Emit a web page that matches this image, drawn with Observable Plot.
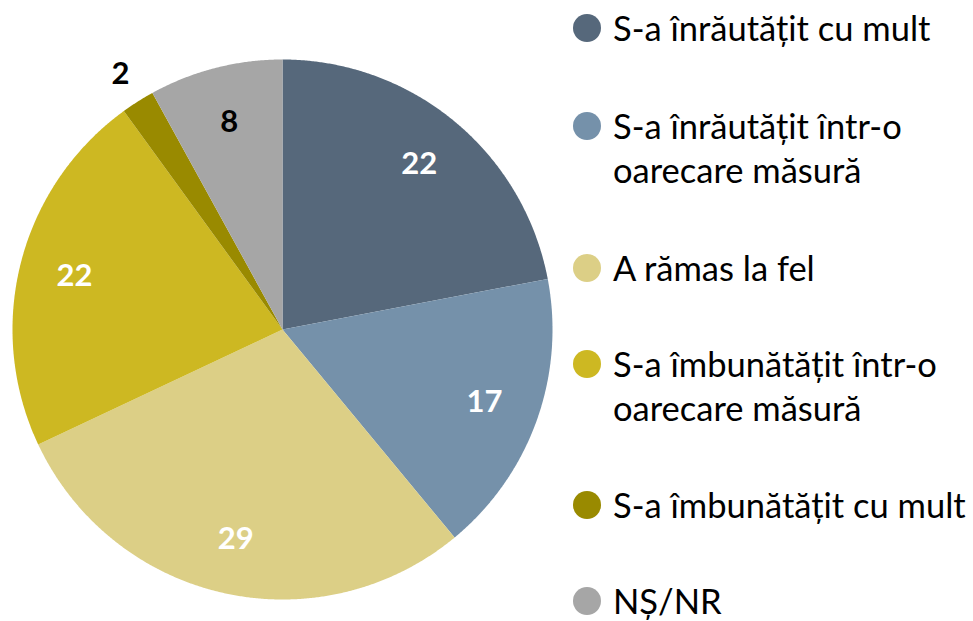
<!DOCTYPE html>
<html>
<head>
<meta charset="utf-8">
<script src="https://cdn.jsdelivr.net/npm/d3@7"></script>
<script src="https://cdn.jsdelivr.net/npm/@observablehq/plot@0.6"></script>
<style>
  html, body { margin: 0; padding: 0; background: #fff; overflow: hidden; }
  #wrap { position: relative; width: 973px; height: 621px; font-family: Lato, "Open Sans", sans-serif; }
  #chart { position: absolute; left: 0; top: 0; }
  #legend { position: absolute; left: 573px; top: 6px; }
  .item { display: flex; align-items: flex-start; }
  .sw { width: 28px; height: 28px; border-radius: 50%; margin-top: 8px; margin-right: 12px; flex: none; }
  .lab { font-size: 34.5px; line-height: 44px; color: #000; white-space: nowrap; }
</style>
</head>
<body>
<div id="wrap">
  <div id="chart"></div>
  <div id="legend"></div>
</div>
<script>
const categories = [
  "S-a înrăutățit cu mult",
  "S-a înrăutățit într-o oarecare măsură",
  "A rămas la fel",
  "S-a îmbunătățit într-o oarecare măsură",
  "S-a îmbunătățit cu mult",
  "NȘ/NR"
];
const legendLines = [
  ["S-a înrăutățit cu mult"],
  ["S-a înrăutățit într-o", "oarecare măsură"],
  ["A rămas la fel"],
  ["S-a îmbunătățit într-o", "oarecare măsură"],
  ["S-a îmbunătățit cu mult"],
  ["NȘ/NR"]
];
const values = [22, 17, 29, 22, 2, 8];
const colors = ["#56687b", "#7591aa", "#dccf86", "#cdb822", "#998a00", "#a6a6a6"];
const labelColors = ["#ffffff", "#ffffff", "#ffffff", "#ffffff", "#000000", "#000000"];

// pie geometry from the values (clockwise from 12 o'clock)
const arcs = d3.pie().sort(null).value(d => d.value)(
  categories.map((c, i) => ({category: c, value: values[i], i}))
);
const poly = [];
for (const a of arcs) {
  const c = a.data.category;
  poly.push({category: c, x: 0, y: 0});
  const n = Math.max(4, Math.ceil((a.endAngle - a.startAngle) / 0.005));
  for (let k = 0; k <= n; k++) {
    const t = a.startAngle + (a.endAngle - a.startAngle) * k / n;
    poly.push({category: c, x: Math.sin(t), y: Math.cos(t)});
  }
  poly.push({category: c, x: 0, y: 0});
}
const labels = arcs.map(a => {
  const m = (a.startAngle + a.endAngle) / 2;
  const r = a.data.value < 5 ? 1.12 : 0.795;
  return {text: String(a.data.value), x: r * Math.sin(m), y: r * Math.cos(m), color: labelColors[a.data.i]};
});

const chart = Plot.plot({
  width: 565,
  height: 621,
  margin: 0,
  x: {domain: [-1, 1], range: [12, 552], axis: null},
  y: {domain: [-1, 1], range: [599, 59], axis: null},
  color: {domain: categories, range: colors},
  style: {background: "transparent", fontFamily: "Lato, 'Open Sans', sans-serif"},
  marks: [
    Plot.line(poly, {x: "x", y: "y", z: "category", fill: "category", stroke: "none", curve: "linear"}),
    Plot.text(labels, {x: "x", y: "y", text: "text", fill: "color", fontSize: 31, fontWeight: "bold", textAnchor: "middle", lineAnchor: "middle"})
  ]
});
document.getElementById("chart").appendChild(chart);

const gaps = [0, 54, 54, 52, 53, 52];
const legend = document.getElementById("legend");
legendLines.forEach((lines, i) => {
  const item = document.createElement("div");
  item.className = "item";
  item.style.marginTop = gaps[i] + "px";
  const sw = document.createElement("div");
  sw.className = "sw";
  sw.style.background = colors[i];
  const lab = document.createElement("div");
  lab.className = "lab";
  lab.innerHTML = lines.join("<br>");
  item.appendChild(sw);
  item.appendChild(lab);
  legend.appendChild(item);
});
</script>
</body>
</html>
